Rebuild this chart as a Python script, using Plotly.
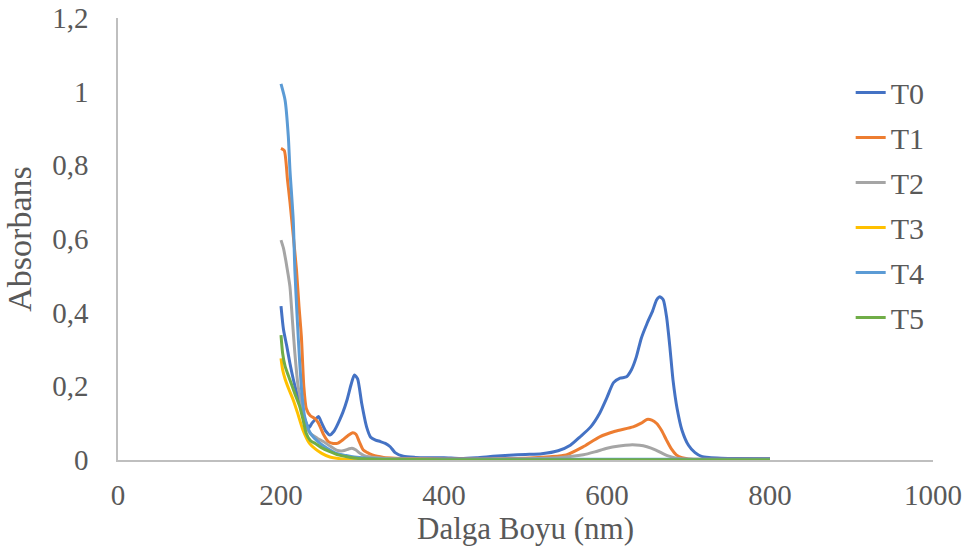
import plotly.graph_objects as go

# UV-Vis absorbance spectra, wavelength in nm
t0_nm = [200, 203, 207, 211, 215, 219, 223, 227, 231, 234, 238, 242, 246, 250, 255, 260, 265, 268,
         272, 276, 281, 286, 290, 294, 299, 305, 310, 316, 322, 328, 334, 340, 350, 365, 380, 400,
         420, 440, 460, 480, 500, 520, 540, 555, 567, 580, 591, 600, 608, 616, 624, 630, 636, 642,
         649, 656, 661, 665, 669, 673, 677, 681, 686, 692, 700, 708, 716, 725, 740, 760, 780, 800]
t0_abs = [0.418, 0.355, 0.31, 0.262, 0.22, 0.185, 0.154, 0.125, 0.1, 0.087, 0.1, 0.11, 0.118, 0.1, 0.078, 0.068, 0.078, 0.09,
          0.109, 0.13, 0.163, 0.205, 0.231, 0.22, 0.154, 0.09, 0.062, 0.054, 0.05, 0.045, 0.036, 0.02, 0.01, 0.007, 0.006, 0.006,
          0.004, 0.006, 0.01, 0.013, 0.015, 0.017, 0.025, 0.04, 0.063, 0.09, 0.127, 0.17, 0.21, 0.222, 0.226, 0.245, 0.28, 0.33,
          0.37, 0.405, 0.435, 0.443, 0.435, 0.39, 0.31, 0.217, 0.14, 0.081, 0.04, 0.02, 0.01, 0.007, 0.005, 0.004, 0.004, 0.004]

t1_nm = [200, 204, 208, 211, 215, 219, 222, 225, 228, 231, 236, 242, 246, 252, 258, 264, 270, 276, 282,
         288, 292, 296, 301, 306, 312, 318, 326, 340, 360, 400, 450, 500, 530, 550, 570, 591, 610, 632,
         642, 649, 655, 661, 667, 673, 679, 685, 692, 700, 720, 760, 800]
t1_abs = [0.846, 0.84, 0.76, 0.70, 0.61, 0.516, 0.42, 0.335, 0.2, 0.14, 0.12, 0.112, 0.1, 0.07, 0.05, 0.045, 0.046, 0.055, 0.066,
          0.074, 0.07, 0.05, 0.027, 0.02, 0.014, 0.01, 0.007, 0.005, 0.004, 0.003, 0.003, 0.005, 0.009, 0.014, 0.035, 0.063, 0.078, 0.09,
          0.1, 0.11, 0.108, 0.099, 0.08, 0.054, 0.03, 0.014, 0.006, 0.003, 0.002, 0.002, 0.002]

t2_nm = [200, 203, 206, 209, 211, 214, 217, 221, 225, 230, 236, 244, 252, 260, 268, 276, 283, 287, 292,
         297, 302, 310, 330, 400, 500, 540, 571, 585, 600, 615, 628, 640, 649, 660, 668, 675, 685, 700, 800]
t2_abs = [0.597, 0.575, 0.54, 0.5, 0.47, 0.38, 0.29, 0.2, 0.154, 0.1, 0.072, 0.06, 0.05, 0.038, 0.027, 0.025, 0.03, 0.032, 0.027,
          0.018, 0.012, 0.008, 0.004, 0.002, 0.003, 0.006, 0.014, 0.022, 0.032, 0.038, 0.041, 0.04, 0.036, 0.027, 0.018, 0.011, 0.005, 0.002, 0.002]

t3_nm = [200, 202, 205, 210, 215, 220, 227, 235, 242, 250, 260, 275, 300, 400, 600, 800]
t3_abs = [0.276, 0.245, 0.22, 0.19, 0.163, 0.13, 0.081, 0.045, 0.03, 0.018, 0.008, 0.003, 0.001, 0.001, 0.001, 0.001]

t4_nm = [200, 205, 209, 211, 215, 217, 220, 223, 226, 229, 236, 248, 258, 268, 280, 290, 320, 400, 600, 800]
t4_abs = [1.021, 0.977, 0.878, 0.787, 0.652, 0.516, 0.38, 0.263, 0.172, 0.118, 0.073, 0.045, 0.03, 0.018, 0.012, 0.008, 0.003, 0.002, 0.002, 0.002]

t5_nm = [200, 202, 205, 211, 217, 223, 227, 231, 236, 242, 250, 260, 270, 281, 295, 320, 400, 600, 800]
t5_abs = [0.339, 0.29, 0.255, 0.217, 0.18, 0.145, 0.11, 0.072, 0.053, 0.045, 0.033, 0.023, 0.014, 0.009, 0.004, 0.002, 0.001, 0.001, 0.001]

series = [
    ("T0", t0_nm, t0_abs, "#4472C4"),
    ("T1", t1_nm, t1_abs, "#ED7D31"),
    ("T2", t2_nm, t2_abs, "#A5A5A5"),
    ("T3", t3_nm, t3_abs, "#FFC000"),
    ("T4", t4_nm, t4_abs, "#5B9BD5"),
    ("T5", t5_nm, t5_abs, "#70AD47"),
]

FONT = "Liberation Serif"
TEXT = "#595959"
AXIS = "#BFBFBF"

fig = go.Figure()
for name, x, y, color in series:
    fig.add_trace(go.Scatter(
        x=x, y=y, name=name, mode="lines", legendgroup=name,
        line=dict(color=color, width=3, shape="spline", smoothing=0.6),
    ))

fig.update_layout(
    width=974, height=557,
    margin=dict(l=118, r=41, t=18, b=97),
    paper_bgcolor="white", plot_bgcolor="white",
    separators=", ",
    font=dict(family=FONT, color=TEXT, size=29),
    showlegend=True,
    legend=dict(
        x=0.899, y=0.89, xanchor="left", yanchor="top",
        font=dict(family=FONT, size=30, color=TEXT),
        tracegroupgap=3, bgcolor="rgba(0,0,0,0)",
    ),
    xaxis=dict(
        range=[0, 1000], dtick=200, tick0=0, automargin=False,
        showgrid=False, zeroline=False,
        showline=True, linecolor=AXIS, linewidth=1.5,
        ticks="", ticklabelstandoff=8,
        tickfont=dict(family=FONT, size=29, color=TEXT),
        title=dict(text="Dalga Boyu (nm)", font=dict(family=FONT, size=31, color=TEXT), standoff=4),
    ),
    yaxis=dict(
        range=[0, 1.2], dtick=0.2, tick0=0, automargin=False,
        showgrid=False, zeroline=False,
        showline=True, linecolor=AXIS, linewidth=1.5,
        ticks="", ticklabelstandoff=22,
        tickfont=dict(family=FONT, size=29, color=TEXT),
        title=dict(text="Absorbans", font=dict(family=FONT, size=34, color=TEXT), standoff=10),
    ),
)

fig.write_html("out.html")
